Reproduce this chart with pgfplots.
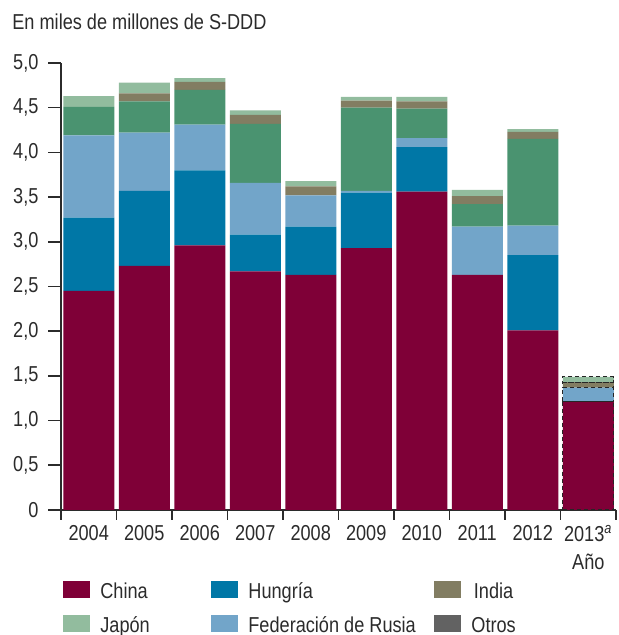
\documentclass[border=0pt]{standalone}
\usepackage{fontspec}
\setmainfont{Liberation Sans}[FakeStretch=0.84]
\usepackage{pgfplots}
\pgfplotsset{compat=1.18}
\definecolor{cChina}{HTML}{7F0037}
\definecolor{cHung}{HTML}{0077A6}
\definecolor{cRus}{HTML}{72A5C9}
\definecolor{cGreen}{HTML}{4A9370}
\definecolor{cIndia}{HTML}{827D62}
\definecolor{cJapon}{HTML}{92BC9E}
\definecolor{cOtros}{HTML}{626262}
\definecolor{axgray}{HTML}{2B2B2B}
\begin{document}
\fontsize{10.8}{13}\selectfont
\begin{tikzpicture}[x=1pt,y=1pt]
\useasboundingbox (0,0) rectangle (309,317.5);
\begin{axis}[
  at={(30.5pt,62.5pt)}, anchor=south west,
  width=277.5pt, height=223.5pt, scale only axis,
  xmin=-0.5, xmax=9.5, ymin=0, ymax=5,
  enlargelimits=false,
  axis x line*=bottom, axis y line*=left,
  axis line style={draw=axgray, line width=0.8pt},
  ybar stacked, bar width=25.5pt,
  xtick={0,...,9},
  xticklabels={2004,2005,2006,2007,2008,2009,2010,2011,2012,{2013\textsuperscript{\itshape a}}},
  major x tick style={draw=none},
  minor xtick={-0.5,0.5,...,9.5},
  minor tick length=5pt,
  minor x tick style={draw=axgray, line width=0.8pt},
  ytick={0,0.5,...,5},
  yticklabels={0,{0,5},{1,0},{1,5},{2,0},{2,5},{3,0},{3,5},{4,0},{4,5},{5,0}},
  tick align=outside, major tick length=6.5pt,
  major y tick style={draw=axgray, line width=0.8pt},
  tick label style={text=axgray, font=\fontsize{10.8}{13}\selectfont},
  /pgf/number format/assume math mode=true,
  xticklabel style={yshift=2.5pt},
  yticklabel style={xshift=-1pt},
  title={En miles de millones de S-DDD},
  title style={at={(axis description cs:-0.0883,1.047)}, anchor=base west, inner sep=0pt, text=axgray, font=\fontsize{10.8}{13}\selectfont},
  xlabel={Año},
  xlabel style={at={(axis description cs:0.980,-0.134)}, anchor=base east, inner sep=0pt, text=axgray, font=\fontsize{10.8}{13}\selectfont},
  legend columns=3,
  legend cell align=left,
  legend style={at={(axis description cs:0.0036,-0.1588)}, anchor=north west,
    draw=none, fill=none, inner sep=0pt, column sep=0pt, row sep=7pt,
    font=\fontsize{10.8}{13}\selectfont,
    nodes={inner sep=0pt, text=axgray, text height=7.5pt, text depth=1.5pt, anchor=base}},
  legend image code/.code={\fill[#1] (0pt,0pt) rectangle (13.5pt,8.5pt); \path (18.5pt,0pt);},
]
\addlegendimage{fill=cChina, draw=none}
\addlegendentry{\makebox[55.5pt][l]{China}}
\addlegendimage{fill=cHung, draw=none}
\addlegendentry{\makebox[93pt][l]{Hungría}}
\addlegendimage{fill=cIndia, draw=none}
\addlegendentry{India}
\addlegendimage{fill=cJapon, draw=none}
\addlegendentry{\makebox[55.5pt][l]{Japón}}
\addlegendimage{fill=cRus, draw=none}
\addlegendentry{\makebox[93pt][l]{Federación de Rusia}}
\addlegendimage{fill=cOtros, draw=none}
\addlegendentry{Otros}

\addplot[fill=cChina, draw=none, forget plot] coordinates {(0,2.45) (1,2.73) (2,2.96) (3,2.67) (4,2.63) (5,2.93) (6,3.56) (7,2.63) (8,2.01) (9,1.21)};
\addplot[fill=cHung, draw=none, forget plot] coordinates {(0,0.82) (1,0.84) (2,0.84) (3,0.41) (4,0.54) (5,0.62) (6,0.50) (7,0) (8,0.84) (9,0)};
\addplot[fill=cRus, draw=none, forget plot] coordinates {(0,0.92) (1,0.65) (2,0.51) (3,0.58) (4,0.35) (5,0.02) (6,0.10) (7,0.54) (8,0.33) (9,0.16)};
\addplot[fill=cGreen, draw=none, forget plot] coordinates {(0,0.32) (1,0.35) (2,0.39) (3,0.66) (4,0) (5,0.93) (6,0.33) (7,0.25) (8,0.97) (9,0)};
\addplot[fill=cIndia, draw=none, forget plot] coordinates {(0,0) (1,0.09) (2,0.09) (3,0.10) (4,0.10) (5,0.08) (6,0.08) (7,0.09) (8,0.08) (9,0.06)};
\addplot[fill=cJapon, draw=none, forget plot] coordinates {(0,0.12) (1,0.12) (2,0.04) (3,0.05) (4,0.06) (5,0.04) (6,0.05) (7,0.07) (8,0.03) (9,0.06)};
\end{axis}
\begin{axis}[
  at={(30.5pt,62.5pt)}, anchor=south west,
  width=277.5pt, height=223.5pt, scale only axis,
  xmin=-0.5, xmax=9.5, ymin=0, ymax=5,
  enlargelimits=false, axis lines=none,
  ybar stacked, bar width=25.5pt,
]
\addplot[fill=none, draw=black!85, line width=0.6pt, dash pattern=on 2pt off 1.5pt] coordinates {(9,1.21)};
\addplot[fill=none, draw=black!85, line width=0.6pt, dash pattern=on 2pt off 1.5pt] coordinates {(9,0.16)};
\addplot[fill=none, draw=black!85, line width=0.6pt, dash pattern=on 2pt off 1.5pt] coordinates {(9,0.06)};
\addplot[fill=none, draw=black!85, line width=0.6pt, dash pattern=on 2pt off 1.5pt] coordinates {(9,0.06)};
\end{axis}
\end{tikzpicture}
\end{document}
